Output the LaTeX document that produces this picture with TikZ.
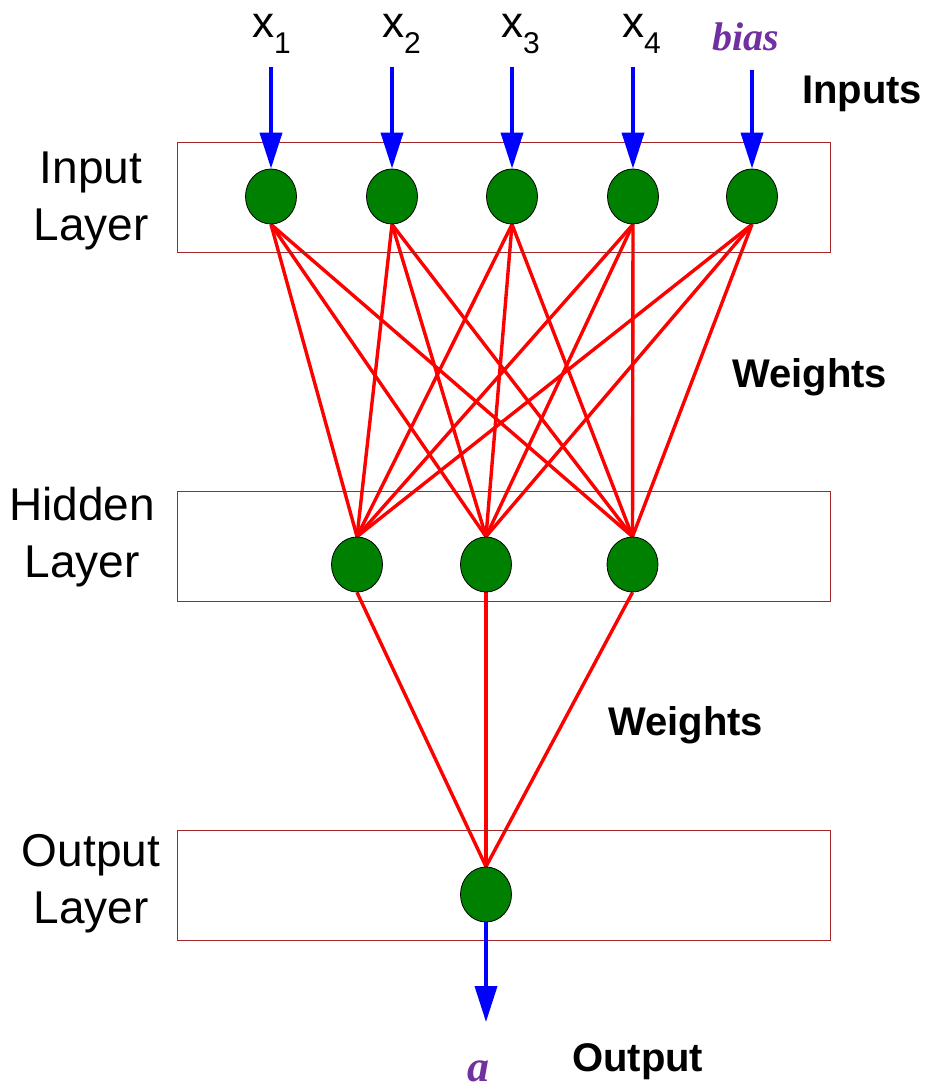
\documentclass[tikz,border=0pt]{standalone}
\usepackage{fontspec}
\setmainfont{Liberation Sans}
\newfontfamily\timesbi{Liberation Serif}
\usetikzlibrary{shapes.geometric,arrows.meta,backgrounds}
\definecolor{nodegreen}{RGB}{0,128,0}
\definecolor{boxred}{RGB}{165,40,40}
\definecolor{purp}{RGB}{112,48,160}
\newcommand\subidx[1]{\raisebox{-16pt}{\fontsize{30}{30}\selectfont #1}}
\begin{document}
\begin{tikzpicture}[x=1pt,y=-1pt,
  neuron/.style={ellipse,draw=black,line width=0.8pt,fill=nodegreen,minimum width=51pt,minimum height=55pt,inner sep=0pt},
  layerbox/.style={draw=boxred,line width=1pt},
  wire/.style={draw=red,line width=3.4pt},
  flowarrow/.style={draw=blue,line width=3.8pt,-{Triangle[width=22pt,length=36pt]}},
  xlabel/.style={inner sep=0pt,anchor=base west,font=\fontsize{44}{44}\selectfont},
  layerlabel/.style={inner sep=0pt,align=center,anchor=center,font=\fontsize{46}{57}\selectfont},
  boldlabel/.style={inner sep=0pt,anchor=base west,font=\fontsize{40}{40}\selectfont\bfseries},
  purplabel/.style={inner sep=0pt,text=purp,font=\fontsize{40}{40}\selectfont\timesbi\bfseries\itshape}
]
\useasboundingbox (0,0) rectangle (926,1084);

% layer boxes
\draw[layerbox] (177,142) rectangle (830,252);
\draw[layerbox] (177,491) rectangle (830,601);
\draw[layerbox] (177,830) rectangle (830,940);

% layer labels
\node[layerlabel] (linput) at (91,201) {Input\\Layer};
\node[layerlabel] (lhidden) at (82,537) {Hidden\\Layer};
\node[layerlabel] (loutput) at (91,884) {Output\\Layer};

% neurons
\node[neuron] (i1) at (271,196.5) {};
\node[neuron] (i2) at (392,196.5) {};
\node[neuron] (i3) at (512,196.5) {};
\node[neuron] (i4) at (633,196.5) {};
\node[neuron] (i5) at (752,196.5) {};
\node[neuron] (h1) at (357,564.5) {};
\node[neuron] (h2) at (486,564.5) {};
\node[neuron] (h3) at (632.5,564.5) {};
\node[neuron] (o1) at (486,894.5) {};

% weights
\begin{scope}[on background layer]
\foreach \i in {1,...,5}{
  \foreach \h in {1,2,3}{
    \draw[wire] (i\i.south) -- (h\h.north);
  }
}
\foreach \h in {1,2,3}{
  \draw[wire] (h\h.south) -- (o1.north);
}
\end{scope}

% input labels
\node[xlabel] (x1) at (252,37) {x\subidx{1}};
\node[xlabel] (x2) at (382,37) {x\subidx{2}};
\node[xlabel] (x3) at (501,37) {x\subidx{3}};
\node[xlabel] (x4) at (622,37) {x\subidx{4}};
\node[purplabel,anchor=base west] (bias) at (712,50) {bias};

% input arrows
\coordinate (t1) at (271,67);
\coordinate (t2) at (392,67);
\coordinate (t3) at (512,67);
\coordinate (t4) at (633,67);
\coordinate (t5) at (752,70);
\foreach \k in {1,...,5}{
  \draw[flowarrow] (t\k) -- (i\k.north);
}

% output arrow
\coordinate (oend) at (486,1022);
\draw[flowarrow] (o1.south) -- (oend);
\node[purplabel,anchor=base,font=\fontsize{44}{44}\selectfont\timesbi\bfseries\itshape] (aout) at (478,1081) {a};

% annotations
\node[boldlabel] (inputs) at (802,103) {Inputs};
\node[boldlabel] (weights1) at (732,387) {Weights};
\node[boldlabel] (weights2) at (608,735) {Weights};
\node[boldlabel] (output) at (572,1071) {Output};
\end{tikzpicture}
\end{document}
